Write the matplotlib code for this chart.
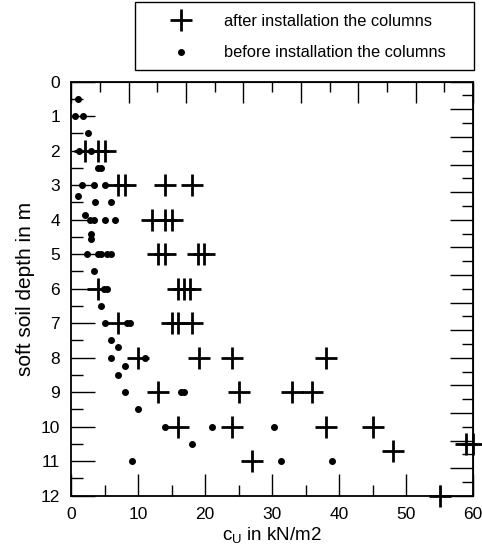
import matplotlib
matplotlib.use('Agg')
import matplotlib.pyplot as plt
import numpy as np
from matplotlib.patches import Rectangle

plt.rcParams['font.family'] = ['Liberation Sans', 'DejaVu Sans']

# before installation (dots): depth in m, cu in kN/m2
before_depth = [0.5, 1.0, 1.0, 1.5, 2.0, 2.0, 2.5, 2.5,
                3.0, 3.0, 3.0, 3.3, 3.5, 3.5,
                3.85, 4.0, 4.0, 4.0, 4.0, 4.4, 4.55,
                5.0, 5.0, 5.0, 5.0, 5.0, 5.5, 6.0, 6.0, 6.5,
                7.0, 7.0, 7.0, 7.5, 7.7, 8.0, 8.0, 8.25, 8.5,
                9.0, 9.0, 9.0, 9.5, 10.0, 10.0, 10.0, 10.5,
                11.0, 11.0, 11.0]
before_cu = [1.0, 0.5, 1.8, 2.5, 1.1, 2.9, 4.0, 4.4,
             1.6, 3.4, 5.0, 1.0, 3.5, 6.0,
             2.0, 2.8, 3.4, 5.0, 6.5, 2.9, 2.9,
             2.4, 4.0, 4.4, 5.4, 6.0, 3.4, 4.9, 5.4, 4.5,
             5.0, 8.3, 8.8, 6.0, 7.0, 6.0, 11.0, 8.0, 7.0,
             8.0, 16.4, 16.9, 10.0, 14.0, 21.0, 30.3, 18.0,
             9.0, 31.3, 39.0]

# after installation (crosses)
after_depth = [2, 2, 2, 3, 3, 3, 3, 4, 4, 4,
               5, 5, 5, 5, 6, 6, 6, 6, 7, 7, 7, 7,
               8, 8, 8, 8, 9, 9, 9, 9, 10, 10, 10, 10,
               10.5, 10.5, 10.7, 11, 12]
after_cu = [2, 4, 5, 7, 8, 14, 18, 12, 14, 15,
            13, 14, 18.9, 19.8, 4, 16, 16.9, 17.8, 7, 15, 16, 18,
            10, 19, 24, 38, 13, 25, 33, 36, 16, 24, 38, 45,
            59, 60, 48, 27, 55]

fig = plt.figure(figsize=(4.82, 5.46), dpi=100)
ax = fig.add_axes([71.3/482, 50.3/546, 401.7/482, 414/546])

ax.plot(after_cu, after_depth, '+', color='black', markersize=16,
        markeredgewidth=2, clip_on=False, label='after installation the columns')
ax.plot(before_cu, before_depth, 'o', color='black', markersize=4,
        clip_on=False, label='before installation the columns')

ax.set_xlim(0, 60)
ax.set_ylim(12, 0)
ax.set_xticks(np.arange(0, 61, 10))
ax.set_xticks(np.arange(5, 60, 10), minor=True)
ax.set_yticks(np.arange(0, 13, 1))
ax.set_yticks(np.arange(0.5, 12, 1), minor=True)
ax.tick_params(which='major', direction='in', length=16, width=1,
               labelsize=12.5, pad=8)
ax.tick_params(which='minor', direction='in', length=8, width=1)
ax.tick_params(axis='y', which='major', length=17)
ax.tick_params(axis='y', which='minor', length=8.5)
for s in ax.spines.values():
    s.set_linewidth(1.3)

# secondary scales on top and right
top = ax.secondary_xaxis('top')
top.set_xticks(np.linspace(0, 60, 8))
top.set_xticks(np.linspace(0, 60, 15), minor=True)
top.tick_params(which='major', direction='in', length=15, width=1, labeltop=False)
top.tick_params(which='minor', direction='in', length=7.5, width=1)
right = ax.secondary_yaxis('right')
right.set_yticks(np.linspace(0, 12, 16))
right.set_yticks(np.linspace(0, 12, 31), minor=True)
right.tick_params(which='major', direction='in', length=16.5, width=1, labelright=False)
right.tick_params(which='minor', direction='in', length=8, width=1)

ax.set_xlabel(r'c$_\mathregular{U}$ in kN/m2', fontsize=13.5, labelpad=3)
ax.set_ylabel('soft soil depth in m', fontsize=15, labelpad=4)

# legend box
fig.patches.append(Rectangle((135/482, 1 - 70/546), 339/482, 68/546,
                             transform=fig.transFigure, fill=False,
                             edgecolor='black', linewidth=1))
h, l = ax.get_legend_handles_labels()
fig.legend(h, l, loc='upper left', bbox_to_anchor=(145/482, 1 - 6/546),
           frameon=False, fontsize=11.8, handlelength=3.4, handletextpad=0.9,
           borderpad=0, labelspacing=0.98, markerscale=1)

fig.savefig('out.png', dpi=100)
